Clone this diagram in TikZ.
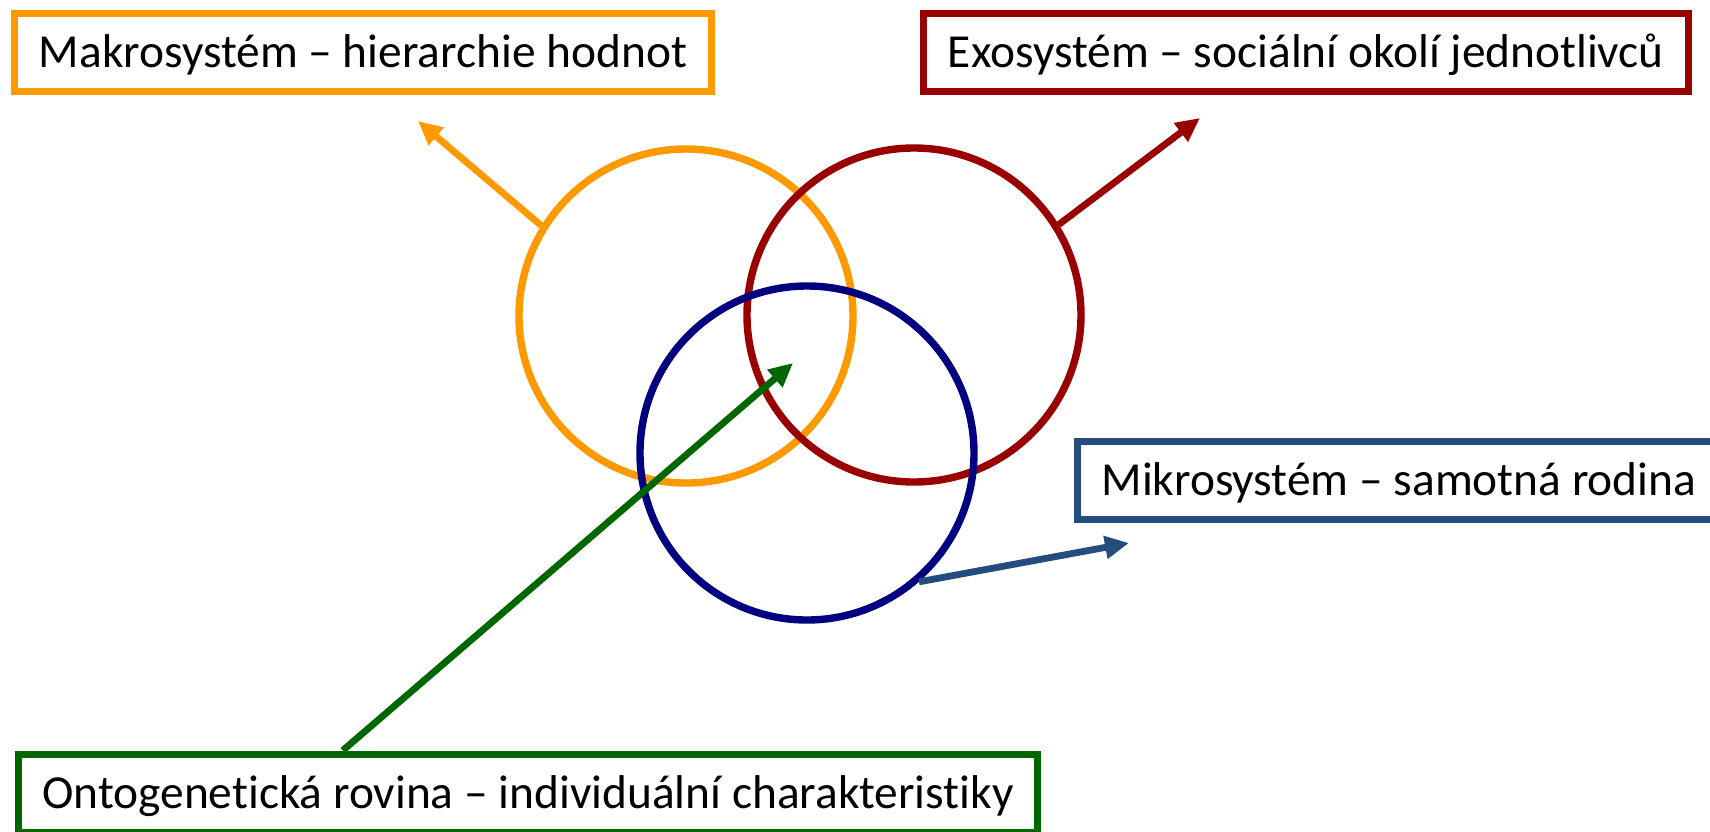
\documentclass[tikz,border=0pt]{standalone}
\usepackage{fontspec}
\setmainfont{Carlito}[Ligatures={NoCommon}]
\usetikzlibrary{arrows.meta,calc}
\definecolor{orng}{HTML}{FF9900}
\definecolor{dred}{HTML}{990000}
\definecolor{navy}{HTML}{000080}
\definecolor{steel}{HTML}{244C7F}
\definecolor{dgreen}{HTML}{006600}
\tikzset{
  lbl/.style={draw=#1, line width=3.5pt, rectangle, inner xsep=12pt, inner ysep=0pt,
    minimum height=39pt, text height=15pt, text depth=0pt,
    font=\fontsize{23.7pt}{28pt}\selectfont, text=black, fill=white},
  ring/.style={draw=#1, circle, line width=3.7pt, minimum size=167pt, inner sep=0pt},
  conn/.style={draw=#1, line width=3.4pt, -{Triangle[length=12pt,width=11pt]}}
}
\begin{document}
\begin{tikzpicture}[x=0.5pt,y=-0.5pt]
\useasboundingbox (0,0) rectangle (1710,831);
% circles
\node[ring=orng] (mak) at (686,316) {};
\node[ring=dred] (exo) at (914,315) {};
\node[ring=navy] (mik) at (807,453) {};
% boxes
\node[lbl=orng] (makbox) at (363,52) {Makrosystém – hierarchie hodnot};
\node[lbl=dred] (exobox) at (1306,52) {Exosystém – sociální okolí jednotlivců};
\node[lbl=steel, anchor=west] (mikbox) at (1074,480) {Mikrosystém – samotná rodina};
\node[lbl=dgreen] (ontbox) at (528,793) {Ontogenetická rovina – individuální charakteristiky};
% free ends
\coordinate (tmak) at (418,121);
\coordinate (texo) at (1200,118);
\coordinate (tmik) at (1129,543);
\coordinate (tont) at (793,363);
\coordinate (sont) at ($(ontbox.north west)+(328,0)$);
% connectors
\draw[conn=orng] (mak.148) -- (tmak);
\draw[conn=dred] (exo.32) -- (texo);
\draw[conn=steel] (mik.-49) -- (tmik);
\draw[conn=dgreen] (sont) -- (tont);
\end{tikzpicture}
\end{document}
